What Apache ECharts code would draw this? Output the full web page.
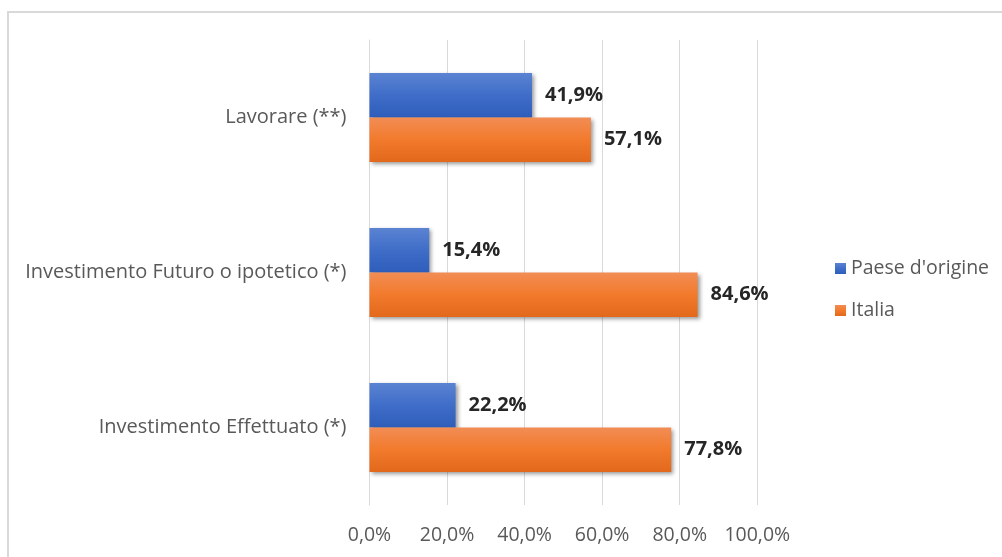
<!DOCTYPE html>
<html><head><meta charset="utf-8">
<script src="https://cdn.jsdelivr.net/npm/echarts@6/dist/echarts.min.js"></script>
<style>html,body{margin:0;padding:0;background:#fff}#c{width:1002px;height:557px}</style>
</head><body><div id="c"></div>
<script>
const categories = ['Investimento Effettuato (*)', 'Investimento Futuro o ipotetico (*)', 'Lavorare (**)'];
const paeseOrigine = [22.2, 15.4, 41.9];
const italia = [77.8, 84.6, 57.1];
const xTicks = [0, 20, 40, 60, 80, 100];
const seriesNames = ["Paese d'origine", 'Italia'];

const fmt = v => v.toFixed(1).replace('.', ',') + '%';
const FONT = 'Open Sans';
const chart = echarts.init(document.getElementById('c'), null, {renderer: 'canvas'});
const shadow = {shadowColor: 'rgba(0,0,0,0.4)', shadowBlur: 4, shadowOffsetX: 2, shadowOffsetY: 2};
const label = {show: true, position: 'right', distance: 13, formatter: p => fmt(p.value),
  fontFamily: FONT, fontWeight: 'bold', fontSize: 20, color: '#262626'};
chart.setOption({
  animation: false,
  graphic: [{type: 'rect', shape: {x: 8, y: 12, width: 1200, height: 800},
    style: {fill: 'none', stroke: '#d9d9d9', lineWidth: 2}, silent: true}],
  grid: {left: 369.5, right: 244.7, top: 40, bottom: 52, containLabel: false},
  legend: {orient: 'vertical', left: 830, top: 253.5, itemWidth: 11, itemHeight: 11, itemGap: 22,
    icon: 'rect', data: seriesNames,
    textStyle: {fontFamily: FONT, fontSize: 19.5, color: '#595959', lineHeight: 20, padding: [0,0,0,0]}},
  xAxis: {type: 'value', min: xTicks[0], max: xTicks[xTicks.length-1], interval: 20,
    axisLine: {show: false}, axisTick: {show: false},
    splitLine: {lineStyle: {color: '#d9d9d9', width: 1}},
    axisLabel: {formatter: v => fmt(v), fontFamily: FONT, fontSize: 19.5, color: '#595959', margin: 20}},
  yAxis: {type: 'category', data: categories,
    axisLine: {show: true, lineStyle: {color: '#d9d9d9'}}, axisTick: {show: false},
    axisLabel: {fontFamily: FONT, fontSize: 20, color: '#595959', margin: 23}},
  series: [
    {name: "Paese d'origine", type: 'bar', data: paeseOrigine, barGap: '0%', barCategoryGap: '42.6%',
      itemStyle: Object.assign({color: new echarts.graphic.LinearGradient(0,0,0,1,[
        {offset: 0, color: '#5b83d2'}, {offset: 0.5, color: '#3f6dc8'}, {offset: 1, color: '#2e5dbb'}])}, shadow),
      label: label},
    {name: 'Italia', type: 'bar', data: italia, barGap: '0%', barCategoryGap: '42.6%',
      itemStyle: Object.assign({color: new echarts.graphic.LinearGradient(0,0,0,1,[
        {offset: 0, color: '#f28d55'}, {offset: 0.5, color: '#f27a2c'}, {offset: 1, color: '#e2691b'}])}, shadow),
      label: label}
  ]
});
</script></body></html>
